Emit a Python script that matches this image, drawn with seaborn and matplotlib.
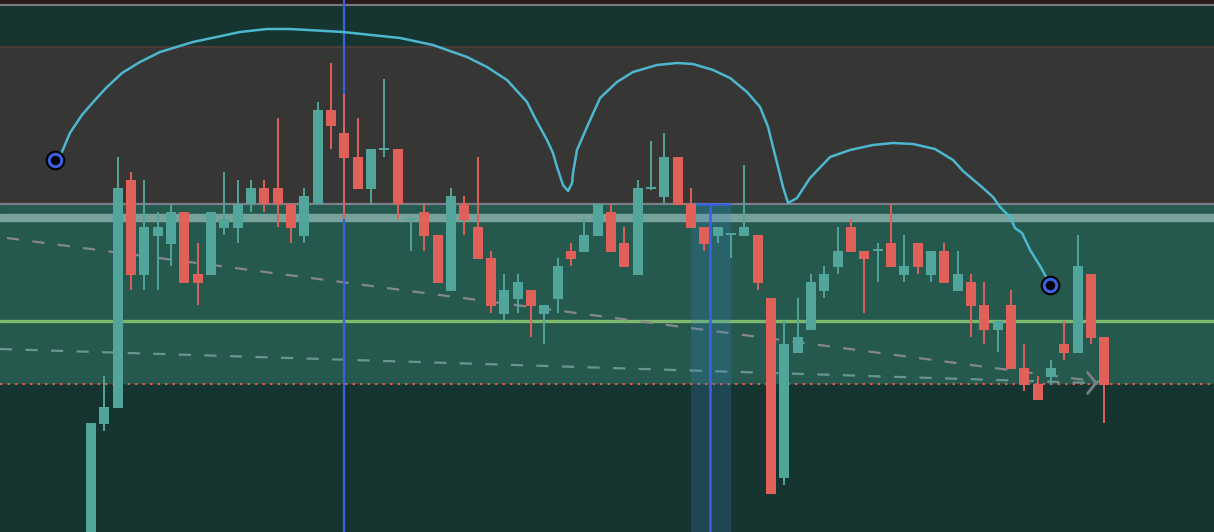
import matplotlib
matplotlib.use("Agg")
import matplotlib.pyplot as plt
import seaborn as sns
import numpy as np
import pandas as pd

# ---- bars (price units) left to right ----
opens = [-13, 108, 124, 352, 257, 296, 288, 320, 258, 257,
         304, 304, 328, 344, 344, 328, 296, 328, 422, 399,
         375, 343, 382, 383, 312, 320, 297, 241, 328, 305,
         274, 218, 233, 242, 218, 233, 281, 280, 296, 320,
         289, 257, 343, 335, 375, 328, 305, 296, 297, 296,
         297, 234, 54, 179, 202, 241, 265, 305, 281, 281,
         289, 257, 289, 257, 281, 241, 250, 227, 202, 227,
         164, 148, 155, 188, 179, 258, 195]
highs = [109, 156, 375, 360, 352, 320, 328, 320, 289, 320,
         360, 352, 352, 352, 414, 328, 344, 430, 469, 438,
         414, 383, 453, 383, 314, 328, 297, 344, 336, 375,
         281, 258, 258, 242, 227, 274, 289, 313, 328, 328,
         305, 352, 391, 399, 375, 344, 305, 305, 298, 367,
         297, 234, 211, 234, 258, 266, 305, 313, 281, 289,
         328, 297, 289, 281, 289, 281, 258, 250, 211, 242,
         188, 156, 172, 211, 297, 258, 195]
lows = [-13, 101, 124, 242, 242, 242, 266, 249, 227, 257,
        297, 289, 320, 320, 305, 289, 289, 328, 383, 313,
        343, 328, 375, 313, 281, 281, 249, 241, 297, 273,
        219, 211, 219, 195, 188, 219, 266, 280, 296, 280,
        265, 257, 342, 328, 327, 304, 281, 289, 274, 296,
        242, 38, 47, 179, 202, 234, 258, 280, 219, 250,
        265, 250, 258, 250, 249, 241, 195, 188, 180, 163,
        141, 132, 147, 172, 179, 188, 109]
closes = [109, 125, 344, 257, 305, 305, 320, 249, 249, 320,
          313, 328, 344, 328, 328, 304, 336, 422, 406, 374,
          343, 383, 384, 328, 314, 296, 249, 336, 312, 273,
          226, 242, 250, 226, 227, 266, 273, 297, 328, 280,
          265, 344, 345, 375, 327, 304, 288, 305, 298, 305,
          249, 38, 188, 195, 250, 258, 281, 280, 273, 282,
          265, 266, 265, 281, 249, 258, 226, 202, 211, 163,
          147, 132, 164, 179, 266, 194, 147]

# ---- cyan oscillator curve (bar index, price) ----
curve_x = [-2.70, -2.18, -1.58, -0.68, 0.30, 1.20, 2.33, 3.68, 5.18, 7.65,
           11.18, 13.20, 14.93, 18.90, 23.18, 25.65, 28.20, 29.70, 31.20, 32.70,
           33.30, 34.20, 34.65, 34.95, 35.40, 35.78, 36.08, 36.15, 36.45, 37.20,
           38.18, 39.45, 40.65, 42.45, 43.95, 45.15, 46.65, 47.93, 49.20, 50.18,
           50.78, 51.15, 51.53, 51.90, 52.28, 52.95, 53.93, 55.43, 56.93, 58.65,
           60.15, 61.65, 63.30, 64.65, 65.40, 66.90, 67.65, 68.18, 68.93, 69.30,
           69.83, 70.43, 71.18, 71.55, 71.93]
curve_y = [372, 380, 399, 417, 432, 445, 459, 470, 480, 490,
           500, 503, 503, 500, 494, 487, 475, 465, 452, 430,
           414, 392, 379, 365, 347, 341, 349, 359, 382, 405,
           434, 450, 460, 467, 469, 468, 462, 454, 440, 425,
           405, 385, 365, 345, 329, 334, 354, 375, 382, 387,
           389, 388, 383, 372, 361, 344, 335, 325, 315, 304,
           299, 282, 266, 257, 247]

# ---- zones / levels ----
zone_top = [485, 528]        # dark teal strip at the top
zone_gray = [328, 485]       # grey zone
zone_teal = [149, 328]       # teal zone
light_band = [311, 318]
green_level = 211
red_level = 148
trend_upper = ([-6.3, 75.7], [294, 150])
trend_lower = ([-6.83, 75.15], [183, 149])
cursor_x = 19
box_left, box_right, box_top, box_mark = 45, 48, 328, 46.4

up_col = "#52a59a"
down_col = "#e0605a"

sns.set_theme(style="dark")
plt.rcParams["font.family"] = ["DejaVu Sans"]

fig = plt.figure(figsize=(12.14, 5.32), dpi=100)
ax = fig.add_axes([0, 0, 1, 1])
ax.set_facecolor("#163530")

# background zones
ax.axhspan(528, 532, color="#2c1a1c", zorder=0)
ax.axhline(527.5, color="#7a7a82", lw=1.5, zorder=1)
ax.axhspan(zone_top[0], zone_top[1], color="#163530", zorder=0)
ax.axhspan(zone_gray[0], zone_gray[1], color="#363634", zorder=0)
ax.axhline(zone_gray[1], color="#4b3b36", lw=1.5, zorder=1)
ax.axhspan(zone_teal[0], zone_teal[1], color="#25594e", zorder=0)
ax.axhline(zone_gray[0], color="#7e7d8a", lw=1.6, zorder=1)
ax.axhspan(light_band[0], light_band[1], color="#78a29c", zorder=1)
ax.axhline(green_level, color="#7dba6b", lw=2.4, zorder=2)
ax.axhline(red_level, color="#e0574e", lw=1.5, ls=(0, (1.2, 2.4)), zorder=2)

# trend lines
ax.plot(trend_upper[0], trend_upper[1], color="#85878d", lw=1.6,
        dashes=(5.5, 6), zorder=2)
ax.plot(trend_lower[0], trend_lower[1], color="#6a958f", lw=1.6,
        dashes=(5.5, 6), zorder=2)
ax.annotate("", xy=(trend_upper[0][1] - 0.2, red_level + 1),
            xytext=(trend_upper[0][1] - 0.4, red_level + 1),
            arrowprops=dict(arrowstyle="->,head_length=0.3,head_width=0.38",
                            color="#7b7e84", lw=2.0, mutation_scale=20),
            zorder=2)

# highlighted box + cursor
ax.axvspan(box_left, box_right, ymin=0, ymax=box_top / 532,
           color="#3d84d0", alpha=0.22, lw=0, zorder=2)
ax.vlines(box_mark, 0, box_top, color="#3a62e0", lw=1.8, zorder=6)
ax.hlines(box_top, box_mark - 1.0, box_right, color="#3a62e0", lw=1.8, zorder=6)
ax.axvline(cursor_x, color="#3a62d8", lw=1.6, zorder=2)

# candles
df = pd.DataFrame({"open": opens, "high": highs, "low": lows, "close": closes})
df["x"] = np.arange(len(df))
df["color"] = np.where(df["close"] >= df["open"], up_col, down_col)
body_lo = df[["open", "close"]].min(axis=1)
body_h = (df["close"] - df["open"]).abs().clip(lower=2)
ax.vlines(df["x"], df["low"], df["high"], colors=df["color"], lw=1.4, zorder=3)
ax.bar(df["x"], body_h, bottom=body_lo, width=0.75, color=df["color"],
       lw=0, zorder=4)

# oscillator curve
sns.lineplot(x=curve_x, y=curve_y, ax=ax, color="#4db7d0", lw=1.8,
             sort=False, zorder=7)
ends_x = [curve_x[0], curve_x[-1]]
ends_y = [curve_y[0], curve_y[-1]]
ax.scatter(ends_x, ends_y, s=200, color="black", zorder=8, lw=0)
ax.scatter(ends_x, ends_y, s=80, facecolor="black", edgecolor="#3a62e0",
           lw=2.2, zorder=9)

ax.set_xlim(-6.825, 84.225)
ax.set_ylim(0, 532)
ax.set_xticks([])
ax.set_yticks([])
ax.set_xlabel("")
ax.set_ylabel("")
for s in ax.spines.values():
    s.set_visible(False)

fig.savefig("out.png", dpi=100, facecolor="#163530")
